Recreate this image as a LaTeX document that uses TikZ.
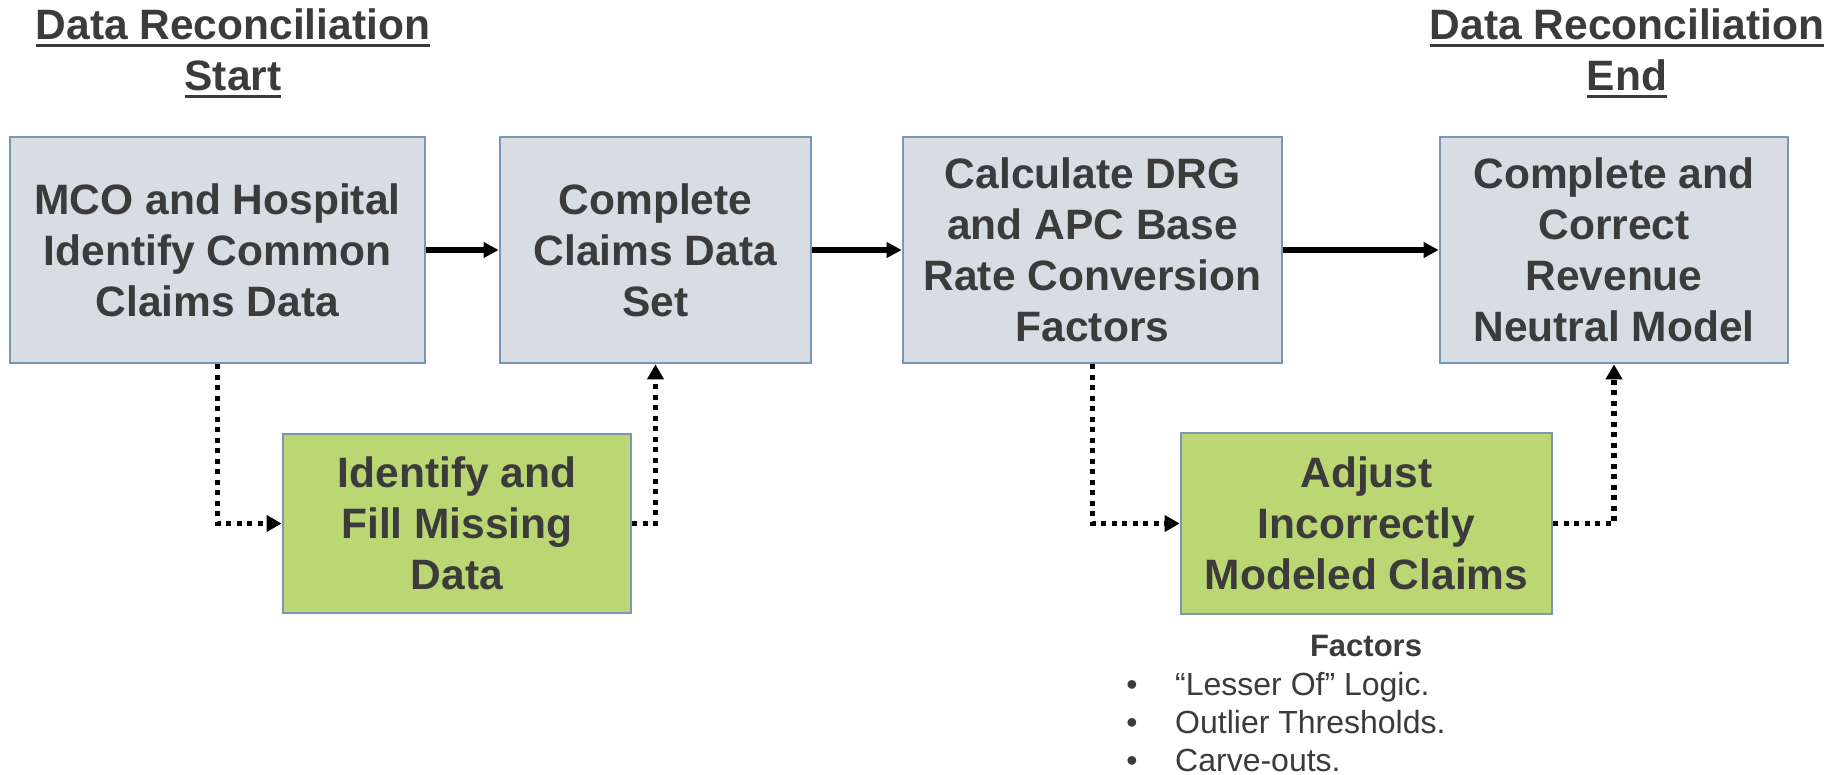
\documentclass[tikz,border=0pt]{standalone}
\usepackage{fontspec}
\setmainfont{Liberation Sans}
\usetikzlibrary{arrows.meta}
\definecolor{boxfill}{RGB}{215,221,226}
\definecolor{greenfill}{RGB}{187,215,115}
\definecolor{boxline}{RGB}{122,150,180}
\definecolor{txt}{RGB}{59,59,59}
\newcommand\ulText[1]{\setbox0\hbox{#1}\rlap{\rule[-7.5pt]{\wd0}{3pt}}\box0}
\begin{document}
\begin{tikzpicture}[x=1pt,y=-1pt,
  box/.style={draw=boxline, line width=2.7pt, fill=boxfill, text=txt, align=center,
    font=\fontsize{42.5}{51}\selectfont\bfseries, inner sep=0pt},
  greenbox/.style={box, fill=greenfill},
  titletext/.style={text=txt, font=\fontsize{42.5}{51}\selectfont\bfseries, anchor=base, inner sep=0pt},
  listtext/.style={text=txt, font=\fontsize{32}{37}\selectfont, anchor=base west, inner sep=0pt},
  solidarrow/.style={line width=5.3pt, -{Triangle[length=15pt,width=15pt]}},
  dotarrow/.style={line width=5.3pt, dash pattern=on 5pt off 5.5pt, -{Triangle[length=15pt,width=16pt]}}
]
\useasboundingbox (0,0) rectangle (1839,775);

% titles
\node[titletext] (t1a) at (233,40) {\ulText{Data Reconciliation}};
\node[titletext] (t1b) at (233,91) {\ulText{Start}};
\node[titletext] (t2a) at (1627,40) {\ulText{Data Reconciliation}};
\node[titletext] (t2b) at (1627,91) {\ulText{End}};

% main boxes
\node[box, minimum width=415pt, minimum height=226pt] (b1) at (217.5,250) {MCO and Hospital\\Identify Common\\Claims Data};
\node[box, minimum width=311pt, minimum height=226pt] (b2) at (655.5,250) {Complete\\Claims Data\\Set};
\node[box, minimum width=379pt, minimum height=226pt] (b3) at (1092.5,250) {Calculate DRG\\and APC Base\\Rate Conversion\\Factors};
\node[box, minimum width=348pt, minimum height=226pt] (b4) at (1614,250) {Complete and\\Correct\\Revenue\\Neutral Model};

% green boxes
\node[greenbox, minimum width=348pt, minimum height=179pt] (b5) at (457,523.5) {Identify and\\Fill Missing\\Data};
\node[greenbox, minimum width=371pt, minimum height=181pt] (b6) at (1366.5,523.5) {Adjust\\Incorrectly\\Modeled Claims};

% factors
\node[text=txt, font=\fontsize{31}{37}\selectfont\bfseries, anchor=base, inner sep=0pt] (fac) at (1366,656) {Factors};
\node[text=txt, font=\fontsize{32}{37}\selectfont, anchor=base, inner sep=0pt] (bu1) at (1132,695) {•};
\node[text=txt, font=\fontsize{32}{37}\selectfont, anchor=base, inner sep=0pt] (bu2) at (1132,733) {•};
\node[text=txt, font=\fontsize{32}{37}\selectfont, anchor=base, inner sep=0pt] (bu3) at (1132,771) {•};
\node[listtext] (l1) at (1175,695) {“Lesser Of” Logic.};
\node[listtext] (l2) at (1175,733) {Outlier Thresholds.};
\node[listtext] (l3) at (1175,771) {Carve-outs.};

% connectors
\draw[solidarrow] (b1.east) -- (b2.west);
\draw[solidarrow] (b2.east) -- (b3.west);
\draw[solidarrow] (b3.east) -- (b4.west);
\draw[dotarrow] (b1.south) |- (b5.west);
\draw[dotarrow] (b5.east) -| (b2.south);
\draw[dotarrow] (b3.south) |- (b6.west);
\draw[dotarrow] (b6.east) -| (b4.south);
\end{tikzpicture}
\end{document}
